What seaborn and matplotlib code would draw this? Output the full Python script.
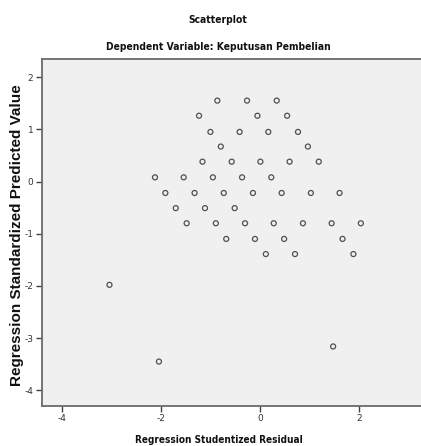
import matplotlib
matplotlib.use("Agg")
import matplotlib.pyplot as plt
from matplotlib import font_manager
import seaborn as sns
import pandas as pd

# residual (x) / predicted value (y) pairs
resid = [-0.86, -0.26, 0.34,
         -1.23, -0.05, 0.55,
         -1.00, -0.41, 0.17, 0.77,
         -0.79, 0.97,
         -1.16, -0.57, 0.01, 0.60, 1.19,
         -2.12, -1.54, -0.95, -0.36, 0.23,
         -1.91, -1.32, -0.73, -0.14, 0.44, 1.03, 1.61,
         -1.70, -1.11, -0.51,
         -1.48, -0.89, -0.30, 0.28, 0.87, 1.45, 2.04,
         -0.68, -0.10, 0.49, 1.67,
         0.12, 0.71, 1.89,
         -3.04, -2.04, 1.48]
pred = [1.55] * 3 + [1.26] * 3 + [0.95] * 4 + [0.67] * 2 + [0.38] * 5 \
     + [0.08] * 5 + [-0.22] * 7 + [-0.51] * 3 + [-0.80] * 7 + [-1.10] * 4 \
     + [-1.39] * 3 + [-1.98, -3.45, -3.16]

xticks = [-4, -2, 0, 2]
yticks = [2, 1, 0, -1, -2, -3, -4]

df = pd.DataFrame({"resid": resid, "pred": pred})

sns.set_style("white")
fig = plt.figure(figsize=(4.21, 4.46), dpi=100)
ax = fig.add_axes([0.099, 0.0904, 0.905, 0.7773])
ax.set_facecolor("#f0f0f0")

sns.scatterplot(data=df, x="resid", y="pred", ax=ax, marker="o",
                facecolor="none", edgecolor="#505050", linewidth=0.9, s=13)

ax.set_xlim(-4.41, 3.29)
ax.set_ylim(-4.295, 2.347)
ax.set_xticks(xticks)
ax.set_yticks(yticks)
ax.set_xticklabels([str(t) for t in xticks])
ax.set_yticklabels([str(t) for t in yticks])
ax.tick_params(axis="both", direction="out", length=4, width=1, color="#404040",
               labelsize=6.5, labelcolor="#333333", pad=2, left=True, bottom=True)
for side in ["left", "bottom", "top"]:
    ax.spines[side].set_color("#6a6a6a")
    ax.spines[side].set_linewidth(1.3)
ax.spines["right"].set_visible(False)
ax.set_xlabel("")
ax.set_ylabel("")

# narrow bold face for the titles, like the SPSS output
names = {f.name for f in font_manager.fontManager.ttflist}
narrow = ["Liberation Sans Narrow"] if "Liberation Sans Narrow" in names else ["DejaVu Sans"]
stretch = "normal" if narrow[0] == "Liberation Sans Narrow" else "condensed"

fig.text(0.518, 1 - 20 / 446, "Scatterplot", ha="center", va="center",
         fontsize=7.4, fontweight="bold", family=narrow, stretch=stretch, color="#111111")
fig.text(0.518, 1 - 47 / 446, "Dependent Variable: Keputusan Pembelian", ha="center",
         va="center", fontsize=7.4, fontweight="bold", family=narrow, stretch=stretch,
         color="#111111")
fig.text(0.52, 1 - 440 / 446, "Regression Studentized Residual", ha="center",
         va="center", fontsize=7.2, fontweight="bold", family=narrow, stretch=stretch,
         color="#111111")
fig.text(17 / 421, 1 - 235 / 446, "Regression Standardized Predicted Value", ha="center",
         va="center", rotation=90, fontsize=11, fontweight="bold",
         family=["Liberation Sans", "DejaVu Sans"], color="#111111")

fig.savefig("out.png", dpi=100)
